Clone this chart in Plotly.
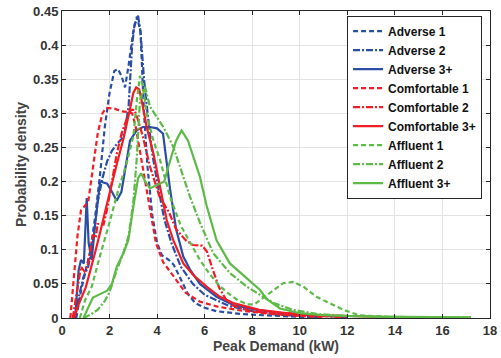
import plotly.graph_objects as go

# ---- data ----
adv1_x = [0.6, 0.8, 1.0, 1.2, 1.4, 1.6, 1.8, 2.0, 2.2, 2.35, 2.5, 2.65, 2.8, 3.0, 3.15, 3.3, 3.45, 3.6, 3.8, 4.0, 4.2, 4.5, 4.7, 5.0, 5.3, 5.6, 6.0, 6.5, 7.5, 8.5, 10.5]
adv1_y = [0.0, 0.04, 0.07, 0.10, 0.15, 0.21, 0.28, 0.33, 0.362, 0.365, 0.355, 0.338, 0.37, 0.42, 0.442, 0.42, 0.30, 0.22, 0.15, 0.11, 0.092, 0.085, 0.078, 0.057, 0.035, 0.022, 0.015, 0.010, 0.006, 0.004, 0.001]

adv2_x = [0.55, 0.7, 0.9, 1.1, 1.3, 1.5, 1.7, 1.9, 2.1, 2.3, 2.5, 2.65, 2.8, 2.95, 3.05, 3.2, 3.3, 3.45, 3.6, 3.8, 4.0, 4.3, 4.6, 5.0, 5.5, 6.0, 7.0, 8.0, 9.0, 10.0, 11.0]
adv2_y = [0.0, 0.03, 0.06, 0.075, 0.11, 0.17, 0.205, 0.23, 0.245, 0.255, 0.262, 0.275, 0.31, 0.40, 0.43, 0.443, 0.42, 0.35, 0.30, 0.24, 0.20, 0.145, 0.11, 0.075, 0.05, 0.034, 0.018, 0.010, 0.005, 0.003, 0.001]

adv3_x = [0.55, 0.7, 0.8, 0.92, 1.04, 1.12, 1.25, 1.4, 1.6, 1.9, 2.1, 2.3, 2.5, 2.7, 2.86, 3.14, 3.4, 3.7, 4.0, 4.25, 4.54, 4.8, 5.1, 5.4, 5.8, 6.5, 7.2, 8.2, 9.3, 10.5, 12.0]
adv3_y = [0.0, 0.07, 0.085, 0.08, 0.176, 0.11, 0.085, 0.14, 0.20, 0.197, 0.185, 0.172, 0.185, 0.23, 0.26, 0.275, 0.28, 0.28, 0.278, 0.27, 0.19, 0.13, 0.09, 0.07, 0.05, 0.031, 0.019, 0.012, 0.007, 0.004, 0.001]

com1_x = [0.35, 0.5, 0.65, 0.8, 1.0, 1.1, 1.3, 1.5, 1.7, 1.85, 2.2, 2.5, 2.8, 2.95, 3.1, 3.3, 3.5, 3.7, 3.95, 4.25, 4.7, 5.2, 5.8, 6.5, 7.5, 8.5, 10.0, 11.0]
com1_y = [0.0, 0.06, 0.12, 0.158, 0.166, 0.17, 0.22, 0.27, 0.30, 0.308, 0.307, 0.303, 0.302, 0.30, 0.28, 0.24, 0.20, 0.155, 0.11, 0.082, 0.06, 0.037, 0.024, 0.017, 0.011, 0.007, 0.003, 0.001]

com2_x = [0.45, 0.6, 0.8, 0.95, 1.1, 1.3, 1.42, 1.5, 1.75, 1.9, 2.1, 2.3, 2.5, 2.7, 2.9, 3.05, 3.2, 3.4, 3.7, 4.1, 4.5, 4.8, 5.2, 5.5, 5.9, 6.1, 6.35, 6.6, 6.9, 7.2, 8.0, 9.0, 10.0, 11.0, 12.0]
com2_y = [0.0, 0.03, 0.075, 0.068, 0.08, 0.122, 0.118, 0.138, 0.137, 0.16, 0.20, 0.24, 0.27, 0.29, 0.305, 0.305, 0.29, 0.266, 0.222, 0.178, 0.155, 0.13, 0.114, 0.107, 0.106, 0.097, 0.07, 0.045, 0.027, 0.018, 0.010, 0.006, 0.004, 0.002, 0.001]

com3_x = [0.5, 0.7, 1.0, 1.2, 1.4, 1.6, 1.8, 2.0, 2.3, 2.6, 2.85, 3.0, 3.12, 3.25, 3.4, 3.56, 3.84, 4.12, 4.4, 4.68, 5.1, 5.52, 6.08, 6.64, 7.2, 8.3, 9.5, 11.0, 12.5, 14.0]
com3_y = [0.0, 0.02, 0.045, 0.07, 0.097, 0.125, 0.155, 0.183, 0.225, 0.265, 0.305, 0.33, 0.338, 0.335, 0.31, 0.28, 0.242, 0.192, 0.144, 0.114, 0.08, 0.063, 0.046, 0.031, 0.022, 0.012, 0.007, 0.004, 0.002, 0.001]

aff1_x = [0.75, 0.97, 1.25, 1.45, 1.67, 1.95, 2.37, 2.72, 3.0, 3.15, 3.28, 3.4, 3.56, 3.8, 4.12, 4.54, 5.0, 5.4, 5.8, 6.2, 6.6, 7.0, 7.4, 7.8, 8.1, 8.33, 8.89, 9.3, 9.73, 10.15, 10.7, 11.27, 11.83, 12.5, 13.5, 15.0]
aff1_y = [0.0, 0.026, 0.046, 0.07, 0.10, 0.134, 0.188, 0.227, 0.266, 0.32, 0.355, 0.34, 0.30, 0.265, 0.232, 0.178, 0.135, 0.11, 0.085, 0.065, 0.048, 0.036, 0.026, 0.02, 0.02, 0.026, 0.041, 0.051, 0.053, 0.046, 0.031, 0.022, 0.012, 0.004, 0.002, 0.001]

aff2_x = [0.9, 1.2, 1.5, 1.8, 2.0, 2.3, 2.58, 2.8, 3.0, 3.14, 3.28, 3.49, 3.7, 3.98, 4.26, 4.68, 5.1, 5.38, 5.8, 6.36, 7.06, 7.77, 8.33, 8.9, 9.7, 10.7, 12.0, 14.0, 17.2]
aff2_y = [0.0, 0.005, 0.012, 0.025, 0.038, 0.07, 0.095, 0.12, 0.17, 0.232, 0.32, 0.339, 0.31, 0.295, 0.28, 0.251, 0.207, 0.178, 0.14, 0.095, 0.066, 0.046, 0.034, 0.022, 0.012, 0.006, 0.003, 0.0015, 0.001]

aff3_x = [0.9, 1.1, 1.3, 1.6, 1.9, 2.1, 2.3, 2.58, 2.79, 3.0, 3.2, 3.33, 3.5, 3.7, 4.0, 4.3, 4.5, 4.8, 5.03, 5.3, 5.66, 5.8, 6.08, 6.5, 7.06, 7.5, 7.9, 8.33, 8.6, 9.17, 10.0, 11.0, 13.0, 15.0, 17.2]
aff3_y = [0.0, 0.015, 0.03, 0.035, 0.04, 0.05, 0.075, 0.095, 0.114, 0.163, 0.205, 0.212, 0.20, 0.19, 0.195, 0.20, 0.225, 0.26, 0.275, 0.26, 0.222, 0.207, 0.165, 0.114, 0.08, 0.066, 0.054, 0.041, 0.028, 0.014, 0.007, 0.004, 0.002, 0.0015, 0.001]

names = ["Adverse 1", "Adverse 2", "Adverse 3+",
         "Comfortable 1", "Comfortable 2", "Comfortable 3+",
         "Affluent 1", "Affluent 2", "Affluent 3+"]
xs = [adv1_x, adv2_x, adv3_x, com1_x, com2_x, com3_x, aff1_x, aff2_x, aff3_x]
ys = [adv1_y, adv2_y, adv3_y, com1_y, com2_y, com3_y, aff1_y, aff2_y, aff3_y]

BLUE = "#2b4ea5"
RED = "#f21c24"
GREEN = "#5dba47"
colors = [BLUE] * 3 + [RED] * 3 + [GREEN] * 3
dashes = ["5px,3px", "7px,2px,2px,2px", "solid"] * 3

FONT = "Liberation Sans, Arial, sans-serif"

fig = go.Figure()
for n, x, y, c, d in zip(names, xs, ys, colors, dashes):
    fig.add_trace(go.Scatter(x=x, y=y, mode="lines", name=n,
                             line=dict(color=c, width=2.2, dash=d)))

axis_common = dict(
    showline=True, linecolor="#262626", linewidth=1, mirror="ticks",
    ticks="inside", ticklen=4, tickcolor="#262626",
    showgrid=True, gridcolor="#e3e3e3", gridwidth=1, zeroline=False,
    automargin=False,
    tickfont=dict(family=FONT, size=13, color="#333333", weight="bold"),
)

fig.update_layout(
    width=501, height=358,
    margin=dict(l=62, r=11, t=11, b=40),
    paper_bgcolor="white", plot_bgcolor="white",
    xaxis=dict(range=[0, 18], tickvals=list(range(0, 19, 2)),
               title=dict(text="Peak Demand (kW)", standoff=3,
                          font=dict(family=FONT, size=14, color="#444444", weight="bold")),
               **axis_common),
    yaxis=dict(range=[0, 0.45], tickvals=[0, 0.05, 0.1, 0.15, 0.2, 0.25, 0.3, 0.35, 0.4, 0.45],
               ticktext=["0", "0.05", "0.1", "0.15", "0.2", "0.25", "0.3", "0.35", "0.4", "0.45"],
               title=dict(text="Probability density", standoff=3,
                          font=dict(family=FONT, size=14, color="#444444", weight="bold")),
               **axis_common),
    legend=dict(x=0.666, y=0.985, xanchor="left", yanchor="top",
                bgcolor="white", bordercolor="#262626", borderwidth=1,
                font=dict(family=FONT, size=12, color="#111111", weight="bold"),
                tracegroupgap=0, itemwidth=30),
    showlegend=True,
)

fig.write_html("out.html", config={"displayModeBar": False},
               post_script="document.body.style.margin='0';document.body.style.padding='0';")
